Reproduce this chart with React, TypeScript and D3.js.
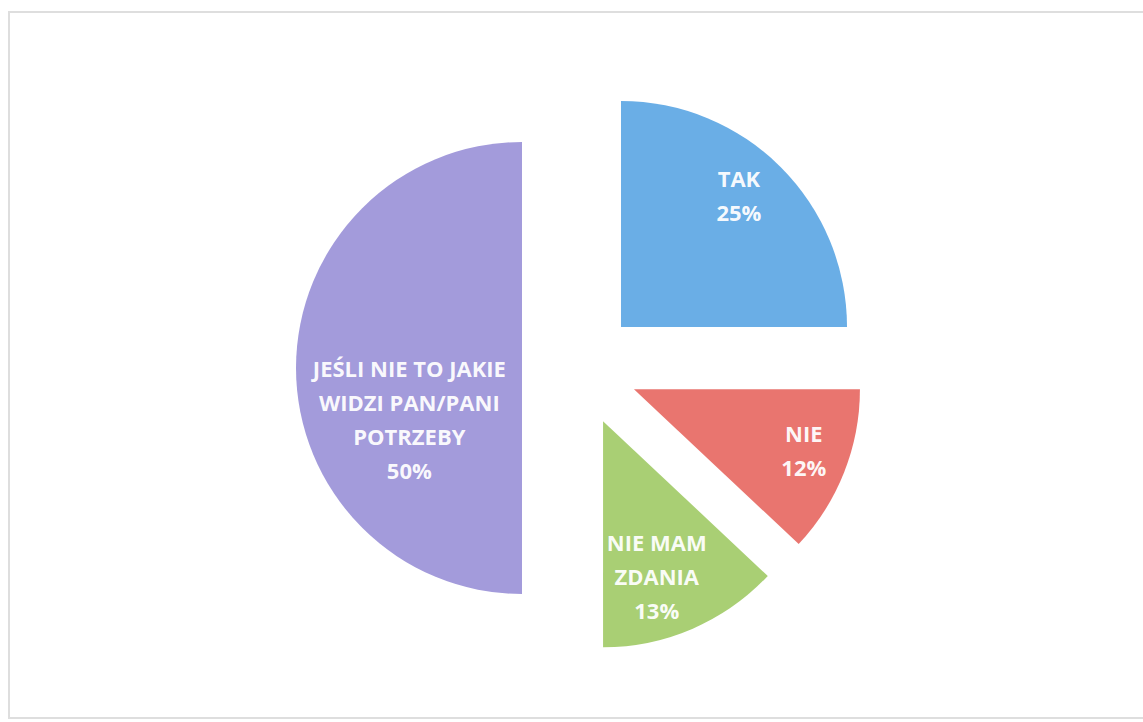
import React from "react";
import * as d3 from "d3";

const categories = ["TAK", "NIE", "NIE MAM ZDANIA", "JEŚLI NIE TO JAKIE WIDZI PAN/PANI POTRZEBY"];
const values = [25, 12, 13, 50];
const labelLines = [
  ["TAK", "25%"],
  ["NIE", "12%"],
  ["NIE MAM", "ZDANIA", "13%"],
  ["JEŚLI NIE TO JAKIE", "WIDZI PAN/PANI", "POTRZEBY", "50%"],
];
const colors = ["#6aaee6", "#e9756f", "#a9cf74", "#a39bdb"];

// label placement inside each slice: [angle shift in degrees, radius fraction]
const labelPlacement: [number, number][] = [
  [-3, 0.78],
  [-1.6, 0.8],
  [4.4, 0.73],
  [-25, 0.55],
];

const W = 1143;
const H = 722;
const CX = 580;
const CY = 368;
const R = 226;
const EXPLODE = 58;
const LINE_H = 34;

export default function App() {
  const pie = d3.pie<number>().sort(null).value((d) => d);
  const arcs = pie(values);
  const arcGen = d3.arc<d3.PieArcDatum<number>>().innerRadius(0).outerRadius(R);

  return (
    <svg
      width={W}
      height={H}
      style={{ position: "absolute", left: 0, top: 0, background: "#fff" }}
    >
      <rect x={9} y={12} width={1150} height={706} fill="none" stroke="#dedede" strokeWidth={2} />
      {arcs.map((a, i) => {
        const mid = (a.startAngle + a.endAngle) / 2;
        const ox = EXPLODE * Math.sin(mid);
        const oy = -EXPLODE * Math.cos(mid);
        const [shift, frac] = labelPlacement[i];
        const la = mid + (shift * Math.PI) / 180;
        const lx = frac * R * Math.sin(la);
        const ly = -frac * R * Math.cos(la);
        const lines = labelLines[i];
        const startY = ly - ((lines.length - 1) * LINE_H) / 2;
        return (
          <g key={categories[i]} transform={`translate(${CX + ox},${CY + oy})`}>
            <path d={arcGen(a) || ""} fill={colors[i]} />
            <text
              x={lx}
              textAnchor="middle"
              fill="#ffffff"
              fillOpacity={0.95}
              fontFamily="'Open Sans', sans-serif"
              fontWeight={700}
              fontSize={22}
            >
              {lines.map((t, j) => (
                <tspan key={j} x={lx} y={startY + j * LINE_H} dy="0.35em">
                  {t}
                </tspan>
              ))}
            </text>
          </g>
        );
      })}
    </svg>
  );
}
